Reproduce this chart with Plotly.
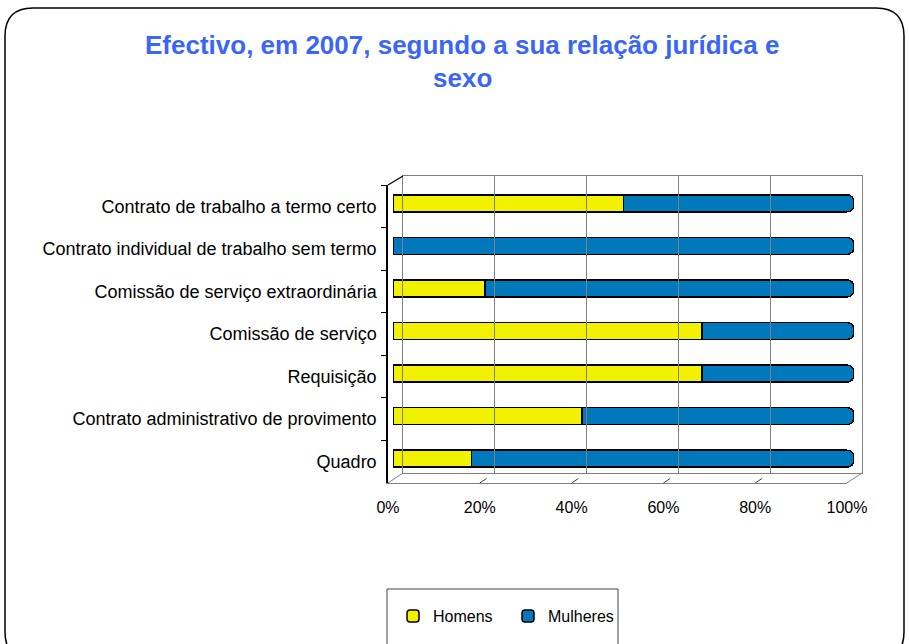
import plotly.graph_objects as go

W, H = 909, 644

categories = [
    "Contrato de trabalho a termo certo",
    "Contrato individual de trabalho sem termo",
    "Comissão de serviço extraordinária",
    "Comissão de serviço",
    "Requisição",
    "Contrato administrativo de provimento",
    "Quadro",
]
homens = [50, 0, 20, 67, 67, 41, 17]
mulheres = [50, 100, 80, 33, 33, 59, 83]
x_ticks = [0, 20, 40, 60, 80, 100]
title_lines = ["Efectivo, em 2007, segundo a sua relação jurídica e", "sexo"]


def px(x):
    return x / W


def py(y):
    return 1 - y / H


# planes (pixel geometry)
FRONT = dict(x0=388, x1=847, y0=185, y1=483)
BACK = dict(x0=403, x1=862, y0=176, y1=473)
BARS = dict(x0=393, x1=854, y0=182, y1=480)

FONT = "Liberation Sans, Arial, sans-serif"
YELLOW = "#F2F200"
BLUE = "#0079BC"

fig = go.Figure()

# back plane (grid) – invisible trace to activate axes
fig.add_trace(go.Scatter(x=[None], y=[None], xaxis="x2", yaxis="y2",
                         showlegend=False, hoverinfo="skip"))
# front plane (labels) – invisible trace
fig.add_trace(go.Scatter(x=[None] * len(categories), y=categories, xaxis="x3", yaxis="y3",
                         mode="markers", marker=dict(opacity=0),
                         showlegend=False, hoverinfo="skip"))

fig.add_trace(go.Bar(name="Homens", y=categories, x=homens, orientation="h",
                     marker=dict(color=YELLOW, line=dict(color="black", width=1.5)),
                     xaxis="x", yaxis="y"))
fig.add_trace(go.Bar(name="Mulheres", y=categories, x=mulheres, orientation="h",
                     marker=dict(color=BLUE, line=dict(color="black", width=1.5)),
                     xaxis="x", yaxis="y"))

cat_order = categories[::-1]

fig.update_layout(
    width=W, height=H,
    margin=dict(l=0, r=0, t=0, b=0, autoexpand=False),
    paper_bgcolor="white", plot_bgcolor="rgba(0,0,0,0)",
    barmode="stack", bargap=0.6, barcornerradius=7,
    font=dict(family=FONT, color="black", size=16),
    showlegend=True,
    legend=dict(orientation="h", x=px(393), y=py(616), xanchor="left", yanchor="middle",
                font=dict(size=16, family=FONT), bgcolor="rgba(0,0,0,0)",
                traceorder="normal", itemwidth=30, entrywidth=70),
    xaxis=dict(domain=[px(BARS["x0"]), px(BARS["x1"])], range=[0, 100], visible=False,
               anchor="y"),
    yaxis=dict(domain=[py(BARS["y1"]), py(BARS["y0"])], type="category",
               categoryorder="array", categoryarray=cat_order, range=[-0.5, 6.5],
               visible=False, anchor="x"),
    xaxis2=dict(domain=[px(BACK["x0"]), px(BACK["x1"])], range=[0, 100], anchor="y2",
                tickvals=x_ticks, showticklabels=False, showgrid=True, gridcolor="#808080",
                gridwidth=1, showline=True, linecolor="#808080", linewidth=1, mirror=True,
                zeroline=False, ticks=""),
    yaxis2=dict(domain=[py(BACK["y1"]), py(BACK["y0"])], range=[0, 1], anchor="x2",
                showticklabels=False, showgrid=False, zeroline=False, showline=True,
                linecolor="#808080", linewidth=1, mirror=True, ticks=""),
    xaxis3=dict(domain=[px(FRONT["x0"]), px(FRONT["x1"])], range=[0, 100], anchor="y3",
                tickvals=x_ticks, ticktext=[f"{v}%" for v in x_ticks], showgrid=False,
                zeroline=False, showline=True, linecolor="#808080", linewidth=1,
                ticks="", ticklabelstandoff=10, tickfont=dict(size=16, family=FONT)),
    yaxis3=dict(domain=[py(FRONT["y1"]), py(FRONT["y0"])], type="category",
                categoryorder="array", categoryarray=cat_order, range=[-0.5, 6.5],
                anchor="x3", showgrid=False, zeroline=False, showline=True,
                linecolor="black", linewidth=1.5, ticks="outside", ticklen=5,
                tickcolor="black", tickson="boundaries", ticklabelstandoff=6,
                tickfont=dict(size=18, family=FONT)),
)

shapes = []
# 3D edges
shapes.append(dict(type="line", xref="paper", yref="paper",
                   x0=px(FRONT["x0"]), y0=py(FRONT["y0"]), x1=px(BACK["x0"]), y1=py(BACK["y0"]),
                   line=dict(color="black", width=1.2)))
shapes.append(dict(type="line", xref="paper", yref="paper",
                   x0=px(FRONT["x0"]), y0=py(FRONT["y1"]), x1=px(BACK["x0"]), y1=py(BACK["y1"]),
                   line=dict(color="#808080", width=1)))
shapes.append(dict(type="line", xref="paper", yref="paper",
                   x0=px(FRONT["x1"]), y0=py(FRONT["y1"]), x1=px(BACK["x1"]), y1=py(BACK["y1"]),
                   line=dict(color="#808080", width=1)))
dx = BACK["x0"] - FRONT["x0"]
dy = BACK["y1"] - FRONT["y1"]
fw = FRONT["x1"] - FRONT["x0"]
for v in x_ticks[1:-1]:
    fx = FRONT["x0"] + fw * v / 100
    shapes.append(dict(type="line", xref="paper", yref="paper",
                       x0=px(fx), y0=py(FRONT["y1"]), x1=px(fx + dx * 0.45), y1=py(FRONT["y1"] + dy * 0.45),
                       line=dict(color="#404040", width=1)))
# legend box
shapes.append(dict(type="rect", xref="paper", yref="paper",
                   x0=px(387), y0=py(589), x1=px(618), y1=py(660),
                   line=dict(color="#404040", width=1)))
# outer rounded border
r = 28
x0, y0, x1, y1 = 5, 8, 904, 660
path = (f"M {px(x0)},{py(y0 + r)} Q {px(x0)},{py(y0)} {px(x0 + r)},{py(y0)} "
        f"L {px(x1 - r)},{py(y0)} Q {px(x1)},{py(y0)} {px(x1)},{py(y0 + r)} "
        f"L {px(x1)},{py(y1 - r)} Q {px(x1)},{py(y1)} {px(x1 - r)},{py(y1)} "
        f"L {px(x0 + r)},{py(y1)} Q {px(x0)},{py(y1)} {px(x0)},{py(y1 - r)} Z")
shapes.append(dict(type="path", xref="paper", yref="paper", path=path,
                   line=dict(color="black", width=1.5), layer="above"))
fig.update_layout(shapes=shapes)

# title
for i, (line, yy) in enumerate(zip(title_lines, [45, 78])):
    fig.add_annotation(text=f"<b>{line}</b>", xref="paper", yref="paper",
                       x=px(462), y=py(yy), xanchor="center", yanchor="middle",
                       showarrow=False, font=dict(size=26, color="#3A66F5", family=FONT))

# remove the default page margin so the 909x644 figure fills the window
fig.write_html("out.html", config={"displayModeBar": False},
               post_script="document.body.style.margin='0';document.body.style.overflow='hidden';")
